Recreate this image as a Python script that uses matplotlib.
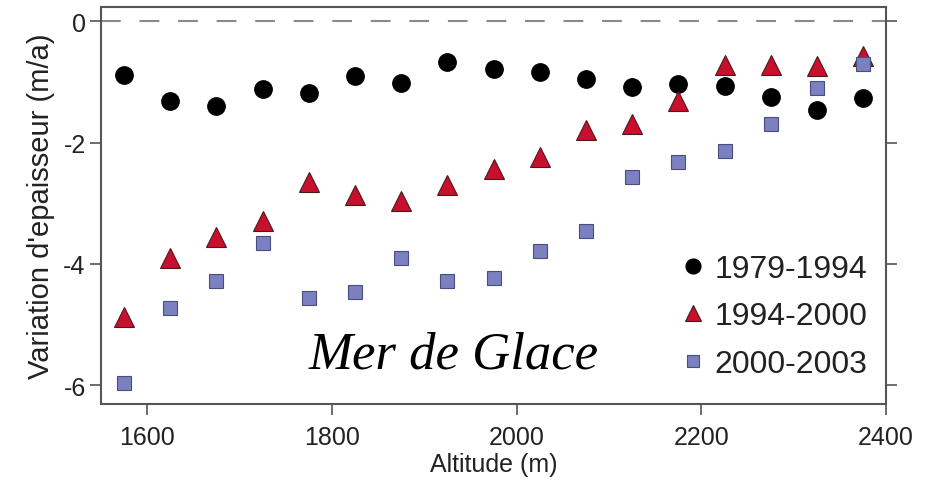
import matplotlib
matplotlib.use("Agg")
import matplotlib.pyplot as plt

plt.rcParams["font.family"] = ["Liberation Sans", "DejaVu Sans"]
plt.rcParams["axes.unicode_minus"] = False

# Altitude bands (m) and thickness change rates (m/a) for each period
altitude = [1575, 1625, 1675, 1725, 1775, 1825, 1875, 1925, 1975,
            2025, 2075, 2125, 2175, 2225, 2275, 2325, 2375]
rate_1979_1994 = [-0.88, -1.32, -1.39, -1.12, -1.18, -0.90, -1.02, -0.67, -0.79,
                  -0.84, -0.95, -1.08, -1.03, -1.07, -1.24, -1.46, -1.27]
rate_1994_2000 = [-4.88, -3.91, -3.56, -3.30, -2.65, -2.87, -2.96, -2.70, -2.43,
                  -2.24, -1.79, -1.69, -1.31, -0.72, -0.72, -0.73, -0.57]
rate_2000_2003 = [-5.96, -4.72, -4.28, -3.66, -4.57, -4.46, -3.91, -4.28, -4.24,
                  -3.78, -3.45, -2.57, -2.32, -2.14, -1.69, -1.10, -0.70]
period_labels = ["1979-1994", "1994-2000", "2000-2003"]
x_ticks = [1600, 1800, 2000, 2200, 2400]
y_ticks = [0, -2, -4, -6]

fig = plt.figure(figsize=(9.26, 4.85), dpi=100)
ax = fig.add_axes([0.109, 0.165, 0.848, 0.819])

# reference line at zero change
ax.axhline(0, color="#8a8a8a", lw=1.5, dashes=(9.5, 9), zorder=1)

ax.plot(altitude, rate_1979_1994, ls="none", marker="o", ms=12.5,
        mfc="black", mec="black", label=period_labels[0], zorder=3)
ax.plot(altitude, rate_1994_2000, ls="none", marker="^", ms=14,
        mfc="#c8102e", mec="#4a1a1a", mew=0.8, label=period_labels[1], zorder=3)
ax.plot(altitude, rate_2000_2003, ls="none", marker="s", ms=10.5,
        mfc="#7b80c0", mec="#4a4d80", mew=0.8, label=period_labels[2], zorder=3)

ax.set_xlim(1550, 2400)
ax.set_ylim(-6.31, 0.24)
ax.set_xticks(x_ticks)
ax.set_yticks(y_ticks)

for sp in ax.spines.values():
    sp.set_color("#555555")
    sp.set_linewidth(1.5)

ax.tick_params(axis="both", direction="out", length=8, width=1.2,
               color="#555555", labelsize=18, labelcolor="#222222", pad=7)
ax.tick_params(axis="y", right=True, pad=3)

ax.set_xlabel("Altitude (m)", fontsize=18, color="#222222", labelpad=2)
ax.set_ylabel("Variation d'epaisseur (m/a)", fontsize=21, color="#222222",
              labelpad=6)

ax.text(0.264, 0.093, "Mer de Glace", transform=ax.transAxes,
        family=["Liberation Serif", "DejaVu Serif"], style="italic",
        fontsize=38, color="black", ha="left", va="baseline")

leg = ax.legend(loc="lower right", bbox_to_anchor=(1.0, 0.015), frameon=False,
                fontsize=23, handlelength=0.8, handletextpad=0.25,
                labelspacing=0.55, borderaxespad=0.2, markerscale=0.85)
for t in leg.get_texts():
    t.set_color("#222222")

fig.savefig("out.png", dpi=100)
